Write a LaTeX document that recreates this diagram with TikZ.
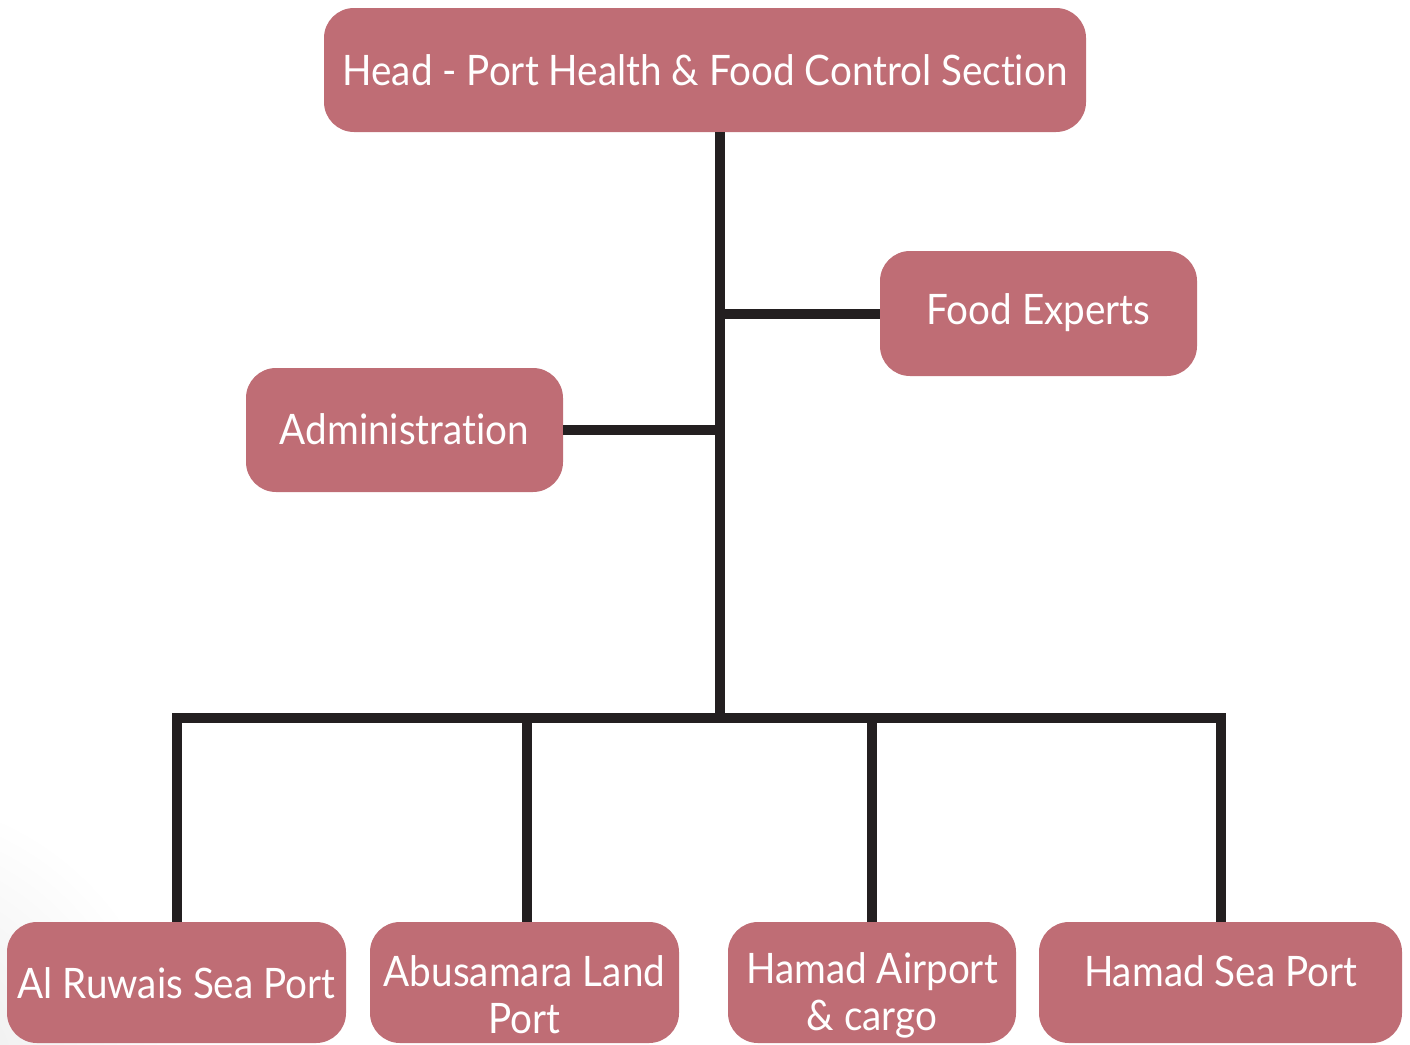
\documentclass[tikz,border=0pt]{standalone}
\usepackage{fontspec}
\setmainfont{Lato}[FakeStretch=0.92, RawFeature={-liga}]
\definecolor{boxpink}{RGB}{191,109,117}
\definecolor{linedark}{RGB}{35,31,32}
\begin{document}
\begin{tikzpicture}[x=1pt,y=-1pt,
  box/.style={fill=boxpink, draw=none, rounded corners=30pt, inner sep=0pt},
  lbl/.style={text=white, font=\fontsize{42}{46}\selectfont, align=center, inner sep=0pt},
  conn/.style={draw=linedark, line width=10pt}]
\useasboundingbox (0,0) rectangle (1410,1044);
\begin{scope}
\clip (0,0) rectangle (1410,1044);
\shade[inner color=black!9, outer color=white] (-120,1090) circle (300);
\end{scope}
% boxes
\node[box, minimum width=762pt, minimum height=124pt] (head) at (705,70) {};
\node[box, minimum width=317pt, minimum height=125pt] (fe) at (1038.5,313.5) {};
\node[box, minimum width=317pt, minimum height=124pt] (ad) at (404.5,430) {};
\node[box, minimum width=339pt, minimum height=121pt] (al) at (176.5,982.5) {};
\node[box, minimum width=309pt, minimum height=121pt] (ab) at (524.5,982.5) {};
\node[box, minimum width=288pt, minimum height=121pt] (ha) at (872,982.5) {};
\node[box, minimum width=363pt, minimum height=121pt] (hs) at (1220.5,982.5) {};
% labels
\node[lbl] (headT) at (705,70) {Head - Port Health \& Food Control Section};
\node[lbl] (feT) at (1038.5,313) {Food Experts};
\node[lbl] (adT) at (404.5,429) {Administration};
\node[lbl] (alT) at (176.5,983) {Al Ruwais Sea Port};
\node[lbl] (abT) at (524.5,995) {Abusamara Land\\[1pt]Port};
\node[lbl] (haT) at (872,995) {Hamad Airport\\[1pt]\& cargo};
\node[lbl] (hsT) at (1220.5,971) {Hamad Sea Port};
% junctions
\coordinate (jt) at (720,718);
\coordinate (bus) at (176,718);
\coordinate (abx) at (527,718);
% connectors
\draw[conn] (head.south -| jt) -- (jt);
\draw[conn] (fe.west) -- (fe.west -| jt);
\draw[conn] (ad.east) -- (ad.east -| jt);
\draw[conn, line join=miter] (al.north) -- (al.north |- bus) -- (hs.north |- bus) -- (hs.north);
\draw[conn] (ab.north -| abx) -- (abx);
\draw[conn] (ha.north) -- (ha.north |- bus);
\end{tikzpicture}
\end{document}
